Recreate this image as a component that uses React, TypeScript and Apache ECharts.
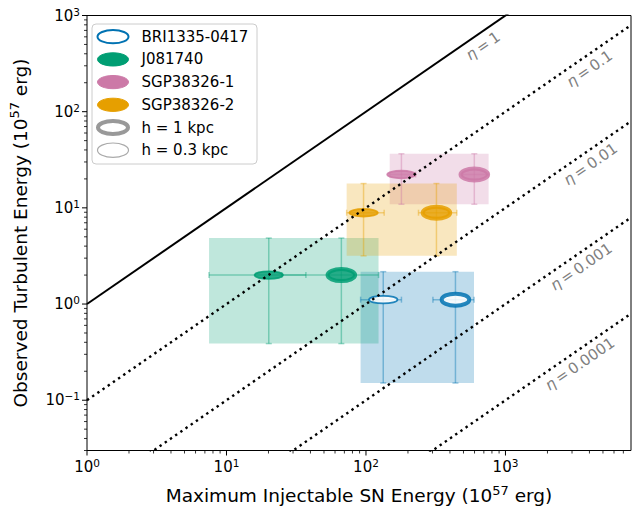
import React, { useEffect, useRef } from 'react';
import * as echarts from 'echarts';

const FONT = 'DejaVu Sans';

// ---- data ----
const galaxyNames = ['BRI1335-0417', 'J081740', 'SGP38326-1', 'SGP38326-2'];
const galaxyColors = ['#0072B2', '#009E73', '#CC79A7', '#E69F00'];
const galaxyHollow = [true, false, false, false];

// Maximum injectable SN energy (1e57 erg), h = 0.3 kpc
const snH03 = [133, 20.1, 179.5, 96.1];
const snH03Low = [91.5, 7.5, 148, 72.7];
const snH03High = [179.6, 37.1, 227, 135];
// h = 1 kpc
const snH1 = [438, 66.6, 598, 320];
const snH1Low = [302, 24.9, 493, 238];
const snH1High = [595, 123, 757, 448];
// Observed turbulent energy (1e57 erg)
const turb = [1.11, 2.0, 22.2, 8.9];
const turbLow = [0.151, 0.388, 10.9, 3.17];
const turbHigh = [2.17, 4.85, 36.5, 17.9];

// efficiency lines
const etaValues = [1, 0.1, 0.01, 0.001, 0.0001];
const etaLabelX = [690, 4000, 4070, 3490, 3410];

// axes
const xLimits = [1, 7943];
const yLimits = [0.03, 1000];
const xDecades = [0, 1, 2, 3];
const yDecades = [-2, -1, 0, 1, 2, 3];
const tickMultipliers = [1, 2, 3, 4, 5, 6, 7, 8, 9];

const legendLabels = ['BRI1335-0417', 'J081740', 'SGP38326-1', 'SGP38326-2', 'h = 1 kpc', 'h = 0.3 kpc'];

// ---- helpers ----
const L = (v: number) => Math.log10(v);
function rgba(hex: string, a: number) {
  const h = hex.replace('#', '');
  const r = parseInt(h.slice(0, 2), 16);
  const g = parseInt(h.slice(2, 4), 16);
  const b = parseInt(h.slice(4, 6), 16);
  return `rgba(${r},${g},${b},${a})`;
}
function buildTicks(decades: number[], lim: number[]) {
  const out: number[][] = [];
  decades.forEach((d) => {
    tickMultipliers.forEach((m) => {
      const v = m * Math.pow(10, d);
      if (v >= lim[0] * (1 - 1e-9) && v <= lim[1] * (1 + 1e-9)) {
        out.push([L(v), m === 1 ? 1 : 0, d]);
      }
    });
  });
  return out;
}

const tickRich = {
  b: { fontSize: 15, lineHeight: 19, fontFamily: FONT, fill: '#000' },
  s: { fontSize: 10.5, lineHeight: 12, verticalAlign: 'top', fontFamily: FONT, fill: '#000' },
};
const expText = (d: number) => `{b|10}{s|${d < 0 ? '\u2212' + Math.abs(d) : d}}`;

export default function App() {
  const ref = useRef<HTMLDivElement>(null);
  useEffect(() => {
    if (!ref.current) return;
    const chart = echarts.init(ref.current, undefined, { renderer: 'svg' });
    const xMinL = L(xLimits[0]);
    const xMaxL = L(xLimits[1]);
    const yMinL = L(yLimits[0]);
    const yMaxL = L(yLimits[1]);

    const series: any[] = [];

    // eta lines
    etaValues.forEach((eta) => {
      series.push({
        type: 'line',
        silent: true,
        symbol: 'none',
        z: 5,
        clip: true,
        data: [
          [xMinL, L(eta) + xMinL],
          [xMaxL, L(eta) + xMaxL],
        ],
        lineStyle:
          eta === 1
            ? { color: '#000', width: 2, type: 'solid' }
            : { color: '#000', width: 2.4, type: [2.4, 3.9], cap: 'butt' },
      });
    });

    // galaxies
    galaxyNames.forEach((name, g) => {
      const color = galaxyColors[g];
      const xlo = Math.min(snH03Low[g], snH1Low[g]);
      const xhi = Math.max(snH03High[g], snH1High[g]);
      series.push({
        type: 'custom',
        name: name + ' range',
        silent: true,
        z: 2,
        data: [[L(xlo), L(turbLow[g]), L(xhi), L(turbHigh[g])]],
        renderItem: (params: any, api: any) => {
          const p1 = api.coord([api.value(0), api.value(3)]);
          const p2 = api.coord([api.value(2), api.value(1)]);
          return {
            type: 'rect',
            shape: { x: p1[0], y: p1[1], width: p2[0] - p1[0], height: p2[1] - p1[1] },
            style: { fill: rgba(color, 0.25) },
          };
        },
      });
      series.push({
        type: 'custom',
        name,
        silent: true,
        z: 3,
        data: [
          [L(snH03[g]), L(turb[g]), L(snH03Low[g]), L(snH03High[g]), L(turbLow[g]), L(turbHigh[g]), 0],
          [L(snH1[g]), L(turb[g]), L(snH1Low[g]), L(snH1High[g]), L(turbLow[g]), L(turbHigh[g]), 1],
        ],
        renderItem: (params: any, api: any) => {
          const x = api.value(0);
          const y = api.value(1);
          const c = api.coord([x, y]);
          const pxl = api.coord([api.value(2), y]);
          const pxh = api.coord([api.value(3), y]);
          const pyl = api.coord([x, api.value(4)]);
          const pyh = api.coord([x, api.value(5)]);
          const thick = api.value(6) === 1;
          const bs = { stroke: rgba(color, 0.4), lineWidth: 1.5 };
          const cap = 3;
          const ln = (x1: number, y1: number, x2: number, y2: number) => ({
            type: 'line',
            shape: { x1, y1, x2, y2 },
            style: bs,
          });
          const children: any[] = [
            ln(pxl[0], c[1], pxh[0], c[1]),
            ln(c[0], pyh[1], c[0], pyl[1]),
            ln(pxl[0], c[1] - cap, pxl[0], c[1] + cap),
            ln(pxh[0], c[1] - cap, pxh[0], c[1] + cap),
            ln(c[0] - cap, pyh[1], c[0] + cap, pyh[1]),
            ln(c[0] - cap, pyl[1], c[0] + cap, pyl[1]),
            {
              type: 'ellipse',
              shape: thick
                ? { cx: c[0], cy: c[1], rx: 13.8, ry: 6 }
                : { cx: c[0], cy: c[1], rx: 14.2, ry: 3.8 },
              style: {
                fill: galaxyHollow[g] ? 'rgba(255,255,255,0.85)' : rgba(color, 0.8),
                stroke: rgba(color, 0.85),
                lineWidth: thick ? 4 : 1.8,
              },
            },
          ];
          return { type: 'group', children };
        },
      });
    });

    // eta labels
    series.push({
      type: 'custom',
      silent: true,
      z: 6,
      data: etaValues.map((eta, i) => [L(etaLabelX[i]), L(eta * etaLabelX[i]), i]),
      renderItem: (params: any, api: any) => {
        const x = api.value(0);
        const y = api.value(1);
        const i = api.value(2);
        const p = api.coord([x, y]);
        const q = api.coord([x + 1, y + 1]);
        const ang = Math.atan2(p[1] - q[1], q[0] - p[0]);
        return {
          type: 'text',
          x: p[0],
          y: p[1] + 15,
          rotation: ang,
          style: {
            text: `{i|\u03b7}{t|\u2009=\u2009${String(etaValues[i])}}`,
            align: 'center',
            verticalAlign: 'middle',
            fontFamily: FONT,
            fontSize: 15,
            fill: '#808080',
            rich: {
              i: { fontStyle: 'italic', fontSize: 15, fontFamily: FONT, fill: '#808080' },
              t: { fontSize: 15, fontFamily: FONT, fill: '#808080' },
            },
          },
        };
      },
    });

    // x ticks
    series.push({
      type: 'custom',
      silent: true,
      z: 7,
      data: buildTicks(xDecades, xLimits),
      renderItem: (params: any, api: any) => {
        const v = api.value(0);
        const major = api.value(1) === 1;
        const d = api.value(2);
        const p = api.coord([v, yMinL]);
        const children: any[] = [
          {
            type: 'line',
            shape: { x1: p[0], y1: p[1], x2: p[0], y2: p[1] + (major ? 5 : 3) },
            style: { stroke: '#000', lineWidth: major ? 1 : 0.8 },
          },
        ];
        if (major) {
          children.push({
            type: 'text',
            x: p[0],
            y: p[1] + 7,
            style: {
              text: expText(d),
              align: 'center',
              verticalAlign: 'top',
              fontFamily: FONT,
              fontSize: 15,
              fill: '#000',
              rich: tickRich,
            },
          });
        }
        return { type: 'group', children };
      },
    });

    // y ticks
    series.push({
      type: 'custom',
      silent: true,
      z: 7,
      data: buildTicks(yDecades, yLimits).map((t) => [xMinL, t[0], t[1], t[2]]),
      renderItem: (params: any, api: any) => {
        const v = api.value(1);
        const major = api.value(2) === 1;
        const d = api.value(3);
        const p = api.coord([xMinL, v]);
        const children: any[] = [
          {
            type: 'line',
            shape: { x1: p[0], y1: p[1], x2: p[0] - (major ? 5 : 3), y2: p[1] },
            style: { stroke: '#000', lineWidth: major ? 1 : 0.8 },
          },
        ];
        if (major) {
          children.push({
            type: 'text',
            x: p[0] - 7,
            y: p[1],
            style: {
              text: expText(d),
              align: 'right',
              verticalAlign: 'middle',
              fontFamily: FONT,
              fontSize: 15,
              fill: '#000',
              rich: tickRich,
            },
          });
        }
        return { type: 'group', children };
      },
    });

    // legend (graphic)
    const legendChildren: any[] = [
      {
        type: 'rect',
        shape: { x: 92, y: 24, width: 165, height: 140, r: 4 },
        style: { fill: 'rgba(255,255,255,0.8)', stroke: '#cccccc', lineWidth: 1 },
      },
    ];
    legendLabels.forEach((lab, i) => {
      const cy = 36.7 + 22.7 * i;
      let st: any;
      let shape: any = { cx: 113, cy, rx: 15.5, ry: 6.6 };
      if (i < galaxyNames.length) {
        st = galaxyHollow[i]
          ? { fill: '#ffffff', stroke: galaxyColors[i], lineWidth: 2 }
          : { fill: galaxyColors[i], stroke: galaxyColors[i], lineWidth: 1 };
      } else if (i === galaxyNames.length) {
        st = { fill: '#ffffff', stroke: '#999999', lineWidth: 4 };
        shape = { cx: 113, cy, rx: 15, ry: 6.5 };
      } else {
        st = { fill: '#ffffff', stroke: '#aaaaaa', lineWidth: 1.2 };
        shape = { cx: 113, cy, rx: 15.5, ry: 7.2 };
      }
      legendChildren.push({ type: 'ellipse', shape, style: st });
      legendChildren.push({
        type: 'text',
        x: 141.5,
        y: cy,
        style: {
          text: lab,
          fontFamily: FONT,
          fontSize: 15,
          fill: '#000',
          align: 'left',
          verticalAlign: 'middle',
        },
      });
    });

    const nameRich = {
      t: { fontSize: 18.5, lineHeight: 24, fontFamily: FONT, color: '#000' },
      s: { fontSize: 13, lineHeight: 14, verticalAlign: 'top', fontFamily: FONT, color: '#000' },
    };

    chart.setOption({
      animation: false,
      backgroundColor: '#ffffff',
      grid: {
        left: 84,
        top: 15.5,
        width: 547,
        height: 440.5,
        show: true,
        borderColor: '#000',
        borderWidth: 1,
        backgroundColor: 'transparent',
        z: 8,
      },
      xAxis: {
        type: 'value',
        min: xMinL,
        max: xMaxL,
        axisLine: { show: false },
        axisTick: { show: false },
        axisLabel: { show: false },
        splitLine: { show: false },
        name: '{t|Maximum Injectable SN Energy (10}{s|57}{t| erg)}',
        nameLocation: 'middle',
        nameGap: 33,
        nameTextStyle: { fontFamily: FONT, fontSize: 18.5, color: '#000', rich: nameRich },
      },
      yAxis: {
        type: 'value',
        min: yMinL,
        max: yMaxL,
        axisLine: { show: false },
        axisTick: { show: false },
        axisLabel: { show: false },
        splitLine: { show: false },
        name: '{t|Observed Turbulent Energy (10}{s|57}{t| erg)}',
        nameLocation: 'middle',
        nameGap: 55,
        nameTextStyle: { fontFamily: FONT, fontSize: 18.5, color: '#000', rich: nameRich },
      },
      graphic: [{ type: 'group', z: 100, children: legendChildren }],
      series,
    });
    return () => chart.dispose();
  }, []);
  return (
    <div
      ref={ref}
      style={{ position: 'fixed', left: 0, top: 0, width: 632, height: 510, background: '#fff' }}
    />
  );
}
